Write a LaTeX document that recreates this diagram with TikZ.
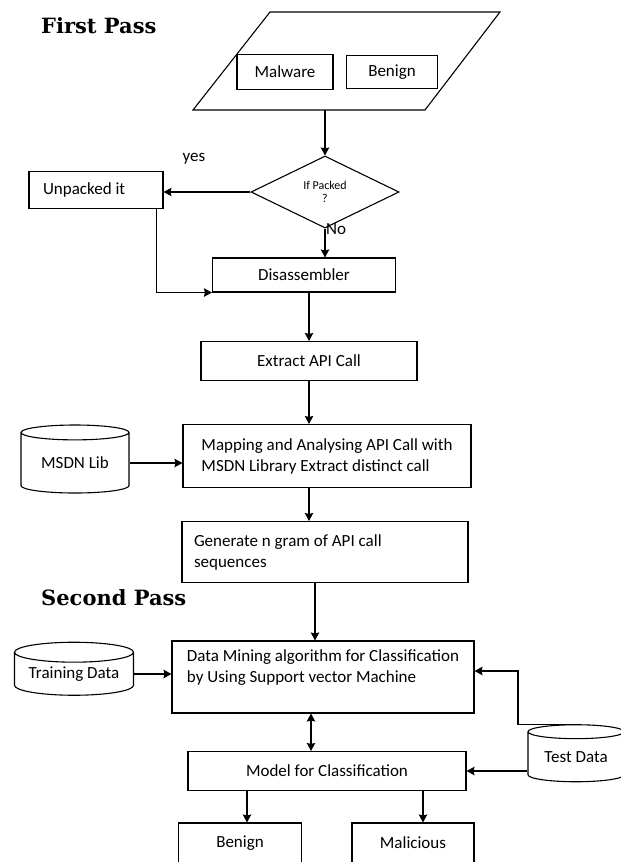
\documentclass[tikz,border=0pt]{standalone}
\usepackage{fontspec}
\setmainfont{Carlito}
\newfontfamily\passfont{DejaVu Serif}
\usetikzlibrary{arrows.meta,shapes.geometric}

\begin{document}
\begin{tikzpicture}[x=1pt, y=-1pt,
    every node/.style={font=\fontsize{17}{21}\selectfont},
    box/.style={draw, line width=1.1pt, rectangle, inner sep=0pt, align=center},
    lbox/.style={box, align=flush left},
    datum/.style={draw, line width=1.1pt, cylinder, shape border rotate=90, aspect=0.22, inner sep=0pt},
    flow/.style={line width=1.1pt, ->, >={Stealth[length=8pt, width=8.5pt, inset=1pt]}},
    pass/.style={font=\passfont\bfseries\fontsize{21}{25}\selectfont, inner sep=0pt, anchor=base west}
]
    \useasboundingbox (0,0) rectangle (621,862);
    \clip (0,0) rectangle (621,862);

    %first pass
    \node[pass] (first) at (41,33) {First Pass};
    \draw[line width=1.1pt] (193,110) -- (270,12) -- (500,12) -- (425,110) -- cycle;
    \coordinate (source) at (325,110);
    \node[box, minimum width=96, minimum height=35] (malware) at (285,72) {Malware};
    \node[box, minimum width=91, minimum height=33] (benign) at (392,72) {Benign};

    \node[draw, line width=1.1pt, diamond, minimum width=148, minimum height=72, inner sep=0pt,
          align=center, font=\fontsize{12}{13}\selectfont] (packed) at (325,192) {If Packed\\?};
    \node (yes) at (194,159) {yes};
    \node[anchor=west, inner sep=0pt] (no) at (326,229) {No};
    \node[lbox, minimum height=37, text width=106, inner xsep=14] (unpack) at (96,190) {Unpacked it};
    \node[box, minimum width=183, minimum height=34] (disasm) at (304,275) {Disassembler};
    \node[box, minimum width=216, minimum height=39] (extract) at (309,361) {Extract API Call};
    \node[lbox, minimum width=288, minimum height=63] (mapping) at (327,456) {Mapping and Analysing API Call with\\MSDN Library Extract distinct call};
    \node[datum, minimum width=108, minimum height=68] (msdn) at (75,463) {MSDN Lib};
    \node[lbox, minimum height=61, text width=262, inner xsep=12] (generate) at (325,552) {Generate n gram of API call\\sequences};

    %second pass
    \node[pass] (second) at (41,605) {Second Pass};
    \node[lbox, minimum width=302, minimum height=72] (mining) at (323,677) {Data Mining algorithm for Classification\\by Using Support vector Machine\\ \mbox{}};
    \node[datum, minimum width=119, minimum height=53] (training) at (74,674) {Training Data};
    \node[datum, minimum width=96, minimum height=57] (test) at (576,757) {Test Data};
    \node[box, minimum width=278, minimum height=39] (model) at (327,771) {Model for Classification};
    \node[box, minimum width=123, minimum height=40] (benign2) at (240,843) {Benign};
    \node[box, minimum width=122, minimum height=40] (malicious) at (413,843) {Malicious};

    \draw[flow] (source) -- (packed.north);
    \draw[flow] (packed.west) -- (packed.west -| unpack.east);
    \draw[flow] (packed.south) -- (packed.south |- disasm.north);
    \draw[flow] ([xshift=-7pt]unpack.south east) |- (disasm.south west);
    \draw[flow] (disasm.south -| extract.north) -- (extract.north);
    \draw[flow] (extract.south) -- (extract.south |- mapping.north);
    \draw[flow] (msdn.east) -- (msdn.east -| mapping.west);
    \draw[flow] (mapping.south -| extract.south) -- (generate.north -| extract.south);
    \draw[flow] ([xshift=-10pt]generate.south) -- ([xshift=-10pt]generate.south |- mining.north);
    \draw[flow] (training.east) -- (training.east -| mining.west);
    \draw[flow] (test.north) -- ++(-58,0) |- ([yshift=6pt]mining.east);
    \draw[flow] (test.west |- model.east) -- (model.east);
    \draw[flow, <->] ([xshift=-12pt]mining.south) -- ([xshift=-12pt]mining.south |- model.north);
    \draw[flow] ([xshift=7pt]benign2.north |- model.south) -- ([xshift=7pt]benign2.north);
    \draw[flow] ([xshift=10pt]malicious.north |- model.south) -- ([xshift=10pt]malicious.north);
\end{tikzpicture}
\end{document}
